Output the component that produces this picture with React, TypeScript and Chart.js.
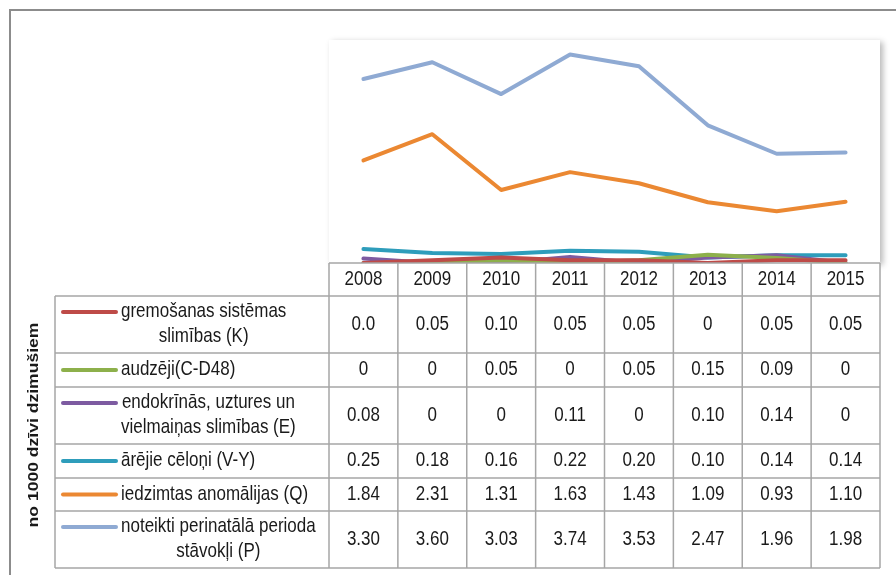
import { useEffect, useRef } from "react";
import { Chart, registerables } from "chart.js";

Chart.register(...registerables);

const years = ["2008", "2009", "2010", "2011", "2012", "2013", "2014", "2015"];

const labelLines = [
  ["gremošanas sistēmas", "slimības (K)"],
  ["audzēji(C-D48)"],
  ["endokrīnās, uztures un", "vielmaiņas slimības (E)"],
  ["ārējie cēloņi (V-Y)"],
  ["iedzimtas anomālijas (Q)"],
  ["noteikti perinatālā perioda", "stāvokļi (P)"],
];

const gremosanas = [0.0, 0.05, 0.1, 0.05, 0.05, 0, 0.05, 0.05];
const audzeji = [0, 0, 0.05, 0, 0.05, 0.15, 0.09, 0];
const endokrinas = [0.08, 0, 0, 0.11, 0, 0.1, 0.14, 0];
const arejie = [0.25, 0.18, 0.16, 0.22, 0.2, 0.1, 0.14, 0.14];
const iedzimtas = [1.84, 2.31, 1.31, 1.63, 1.43, 1.09, 0.93, 1.1];
const perinatala = [3.3, 3.6, 3.03, 3.74, 3.53, 2.47, 1.96, 1.98];

const gremosanasText = ["0.0", "0.05", "0.10", "0.05", "0.05", "0", "0.05", "0.05"];
const audzejiText = ["0", "0", "0.05", "0", "0.05", "0.15", "0.09", "0"];
const endokrinasText = ["0.08", "0", "0", "0.11", "0", "0.10", "0.14", "0"];
const arejieText = ["0.25", "0.18", "0.16", "0.22", "0.20", "0.10", "0.14", "0.14"];
const iedzimtasText = ["1.84", "2.31", "1.31", "1.63", "1.43", "1.09", "0.93", "1.10"];
const perinatalaText = ["3.30", "3.60", "3.03", "3.74", "3.53", "2.47", "1.96", "1.98"];

const seriesValues = [gremosanas, audzeji, endokrinas, arejie, iedzimtas, perinatala];
const seriesText = [gremosanasText, audzejiText, endokrinasText, arejieText, iedzimtasText, perinatalaText];
const seriesColors = ["#BE4B48", "#8DB04B", "#7D5BA1", "#2E9DBB", "#EB8832", "#8FAAD3"];

const yAxisTitle = "no 1000 dzīvi dzimušiem";

const FONT = "'Liberation Sans', Arial, sans-serif";
const SY = 1.17;
const TEXT_COLOR = "#1a1a1a";
const GRID = "#A6A6A6";

// table layout (pixels)
const HEADER_TOP = 263;
const ROW_BOUNDS = [296, 353, 387, 444, 478, 511, 568];
const TABLE_LEFT = 55;

function drawText(ctx: CanvasRenderingContext2D, s: string, x: number, y: number, align: CanvasTextAlign) {
  ctx.save();
  ctx.translate(x, y);
  ctx.scale(1, SY);
  ctx.textAlign = align;
  ctx.textBaseline = "middle";
  ctx.fillText(s, 0, 0);
  ctx.restore();
}

const framePlugin = {
  id: "frame",
  beforeDraw(chart: any) {
    const ctx: CanvasRenderingContext2D = chart.ctx;
    const a = chart.chartArea;
    ctx.save();
    ctx.fillStyle = "#ffffff";
    ctx.fillRect(0, 0, chart.width, chart.height);
    ctx.strokeStyle = "#8C8C8C";
    ctx.lineWidth = 2;
    ctx.strokeRect(10, 10, chart.width + 20, chart.height + 20);
    ctx.shadowColor = "rgba(0,0,0,0.28)";
    ctx.shadowBlur = 6;
    ctx.shadowOffsetX = 3;
    ctx.shadowOffsetY = 2;
    ctx.fillStyle = "#ffffff";
    ctx.fillRect(a.left, a.top, a.right - a.left, a.bottom - a.top);
    ctx.restore();
  },
  afterDraw(chart: any) {
    const ctx: CanvasRenderingContext2D = chart.ctx;
    const xs = chart.scales.x;
    const n = years.length;
    const colW = (xs.right - xs.left) / n;
    const bounds: number[] = [];
    for (let i = 0; i <= n; i++) bounds.push(xs.left + i * colW);
    const right = bounds[n];

    ctx.save();
    // white table background
    ctx.fillStyle = "#ffffff";
    ctx.fillRect(bounds[0], HEADER_TOP, right - bounds[0], ROW_BOUNDS[0] - HEADER_TOP);
    ctx.fillRect(TABLE_LEFT, ROW_BOUNDS[0], right - TABLE_LEFT, ROW_BOUNDS[ROW_BOUNDS.length - 1] - ROW_BOUNDS[0]);

    // grid
    ctx.strokeStyle = GRID;
    ctx.lineWidth = 1.5;
    ctx.beginPath();
    ctx.moveTo(bounds[0], HEADER_TOP);
    ctx.lineTo(right, HEADER_TOP);
    for (const yb of ROW_BOUNDS) {
      ctx.moveTo(TABLE_LEFT, yb);
      ctx.lineTo(right, yb);
    }
    ctx.moveTo(TABLE_LEFT, ROW_BOUNDS[0]);
    ctx.lineTo(TABLE_LEFT, ROW_BOUNDS[ROW_BOUNDS.length - 1]);
    for (const xb of bounds) {
      ctx.moveTo(xb, HEADER_TOP);
      ctx.lineTo(xb, ROW_BOUNDS[ROW_BOUNDS.length - 1]);
    }
    ctx.stroke();

    ctx.fillStyle = TEXT_COLOR;
    ctx.font = `17px ${FONT}`;
    // header years
    const headerMid = (HEADER_TOP + ROW_BOUNDS[0]) / 2;
    years.forEach((yr, i) => drawText(ctx, yr, xs.getPixelForValue(i), headerMid, "center"));

    // rows
    for (let r = 0; r < seriesValues.length; r++) {
      const top = r === 0 ? ROW_BOUNDS[0] : ROW_BOUNDS[r];
      const bottom = ROW_BOUNDS[r + 1];
      const mid = (top + bottom) / 2;
      const lines = labelLines[r];
      const lh = 25;
      const firstY = mid - ((lines.length - 1) * lh) / 2;
      // legend key
      ctx.strokeStyle = seriesColors[r];
      ctx.lineWidth = 4;
      ctx.lineCap = "round";
      ctx.beginPath();
      ctx.moveTo(63, firstY);
      ctx.lineTo(116, firstY);
      ctx.stroke();
      // label text block
      ctx.fillStyle = TEXT_COLOR;
      ctx.font = `17px ${FONT}`;
      let bw = 0;
      for (const l of lines) bw = Math.max(bw, ctx.measureText(l).width);
      lines.forEach((l, k) => drawText(ctx, l, 121 + bw / 2, firstY + k * lh, "center"));
      // values
      seriesText[r].forEach((t, i) => drawText(ctx, t, xs.getPixelForValue(i), mid, "center"));
    }

    // y axis title
    ctx.font = `bold 15px ${FONT}`;
    ctx.translate(34, 425);
    ctx.rotate(-Math.PI / 2);
    ctx.scale(SY, 1);
    ctx.textAlign = "center";
    ctx.textBaseline = "middle";
    ctx.fillText(yAxisTitle, 0, 0);
    ctx.restore();
  },
};

export default function App() {
  const ref = useRef<HTMLCanvasElement | null>(null);
  useEffect(() => {
    document.body.style.margin = "0";
    const canvas = ref.current;
    if (!canvas) return;
    const chart = new Chart(canvas, {
      type: "line",
      data: {
        labels: years,
        datasets: seriesValues.map((vals, i) => ({
          label: labelLines[i].join(" "),
          data: vals,
          borderColor: seriesColors[i],
          backgroundColor: seriesColors[i],
          borderWidth: 4,
          pointRadius: 0,
          tension: 0,
          fill: false,
          borderJoinStyle: "round" as const,
          borderCapStyle: "round" as const,
          clip: 0,
        })),
      },
      options: {
        responsive: false,
        maintainAspectRatio: false,
        animation: false,
        layout: { padding: { left: 329, right: 16, top: 40, bottom: 312 } },
        plugins: { legend: { display: false }, tooltip: { enabled: false }, title: { display: false } },
        scales: {
          x: { type: "category", offset: true, display: false },
          y: { min: 0, max: 4, display: false },
        },
      },
      plugins: [framePlugin],
    });
    return () => chart.destroy();
  }, []);
  return <canvas ref={ref} width={896} height={575} style={{ display: "block" }} />;
}
